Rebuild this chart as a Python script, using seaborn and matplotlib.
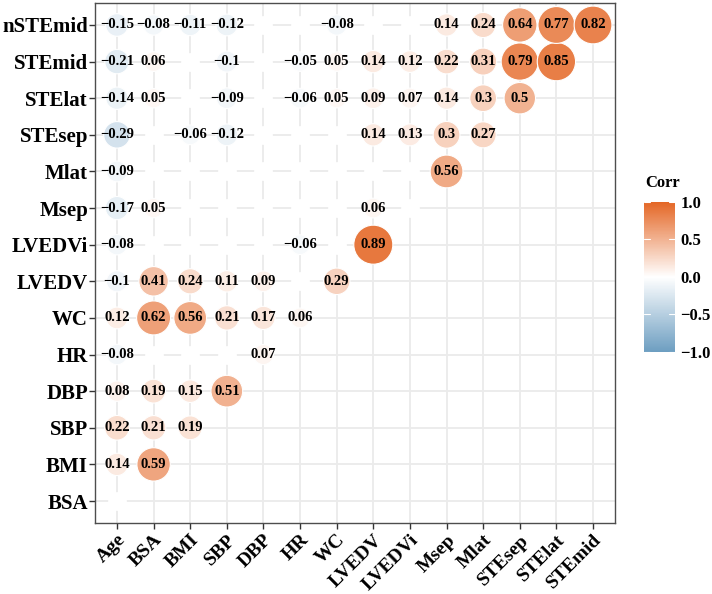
import numpy as np
import pandas as pd
import matplotlib
matplotlib.use("Agg")
import matplotlib.pyplot as plt
import seaborn as sns
from matplotlib.colors import LinearSegmentedColormap, Normalize
from matplotlib.colorbar import ColorbarBase

sns.set_style("white")
plt.rcParams["font.family"] = ["Liberation Serif", "DejaVu Serif"]
plt.rcParams["font.weight"] = "bold"
plt.rcParams["text.color"] = "black"
plt.rcParams["xtick.labelcolor"] = "black"
plt.rcParams["ytick.labelcolor"] = "black"

# variables on each axis
cols = ["Age", "BSA", "BMI", "SBP", "DBP", "HR", "WC", "LVEDV", "LVEDVi",
        "Msep", "Mlat", "STEsep", "STElat", "STEmid"]
rows = ["BSA", "BMI", "SBP", "DBP", "HR", "WC", "LVEDV", "LVEDVi",
        "Msep", "Mlat", "STEsep", "STElat", "STEmid", "nSTEmid"]

nan = np.nan
# lower triangle correlations, one list per row (blank = not significant)
r_BSA = [nan]
r_BMI = [0.14, 0.59]
r_SBP = [0.22, 0.21, 0.19]
r_DBP = [0.08, 0.19, 0.15, 0.51]
r_HR = [-0.08, nan, nan, nan, 0.07]
r_WC = [0.12, 0.62, 0.56, 0.21, 0.17, 0.06]
r_LVEDV = [-0.1, 0.41, 0.24, 0.11, 0.09, nan, 0.29]
r_LVEDVi = [-0.08, nan, nan, nan, nan, -0.06, nan, 0.89]
r_Msep = [-0.17, 0.05, nan, nan, nan, nan, nan, 0.06, nan]
r_Mlat = [-0.09, nan, nan, nan, nan, nan, nan, nan, nan, 0.56]
r_STEsep = [-0.29, nan, -0.06, -0.12, nan, nan, nan, 0.14, 0.13, 0.3, 0.27]
r_STElat = [-0.14, 0.05, nan, -0.09, nan, -0.06, 0.05, 0.09, 0.07, 0.14, 0.3, 0.5]
r_STEmid = [-0.21, 0.06, nan, -0.1, nan, -0.05, 0.05, 0.14, 0.12, 0.22, 0.31,
            0.79, 0.85]
r_nSTEmid = [-0.15, -0.08, -0.11, -0.12, nan, nan, -0.08, nan, nan, 0.14, 0.24,
             0.64, 0.77, 0.82]

all_rows = [r_BSA, r_BMI, r_SBP, r_DBP, r_HR, r_WC, r_LVEDV, r_LVEDVi,
            r_Msep, r_Mlat, r_STEsep, r_STElat, r_STEmid, r_nSTEmid]

recs = []
for i, vals in enumerate(all_rows):
    for j, v in enumerate(vals):
        recs.append({"x": j, "y": i, "value": v})
df = pd.DataFrame(recs)
df["abs"] = df["value"].abs().fillna(0)
sig = df.dropna(subset=["value"])

cmap = LinearSegmentedColormap.from_list("corr", ["#6D9EC1", "white", "#E46726"])

fig = plt.figure(figsize=(7.12, 5.94), dpi=100)
ax = fig.add_axes([95 / 712, 1 - 523 / 594, 520 / 712, 520 / 594])

# white patches under every cell of the triangle
ax.scatter(df["x"], df["y"], s=160, c="white", edgecolors="white",
           linewidths=0.8, zorder=2)

sns.scatterplot(data=sig, x="x", y="y", hue="value", palette=cmap,
                hue_norm=(-1, 1), size="abs", sizes=(160, 790),
                size_norm=(0, df["abs"].max()), edgecolor="white",
                linewidth=0.8, legend=False, ax=ax, zorder=3)

for _, r in sig.iterrows():
    ax.text(r["x"], r["y"], f"{r['value']:g}".replace("-", "\u2212"),
            ha="center", va="center", fontsize=10.5, fontweight="bold",
            color="black", zorder=4)

ax.set_xlim(-0.6, 13.6)
ax.set_ylim(-0.6, 13.6)
ax.set_xticks(range(len(cols)))
ax.set_xticklabels(cols, rotation=45, ha="right", rotation_mode="anchor",
                   fontsize=14, fontweight="bold")
ax.set_yticks(range(len(rows)))
ax.set_yticklabels(rows, fontsize=15, fontweight="bold")
ax.set_xlabel("")
ax.set_ylabel("")
ax.tick_params(axis="x", length=4, width=1, color="#333333", pad=2, bottom=True)
ax.tick_params(axis="y", length=4, width=1, color="#333333", pad=1, left=True)
ax.grid(True, color="#EBEBEB", linewidth=1.3)
ax.set_axisbelow(True)
for sp in ax.spines.values():
    sp.set_color("#4D4D4D")
    sp.set_linewidth(1.0)

# colour bar legend
cax = fig.add_axes([644 / 712, 1 - 352 / 594, 31 / 712, 150 / 594])
cb = ColorbarBase(cax, cmap=cmap, norm=Normalize(-1, 1), orientation="vertical")
cb.outline.set_visible(False)
cb.set_ticks([-1, -0.5, 0, 0.5, 1])
cb.set_ticklabels(["\u22121.0", "\u22120.5", "0.0", "0.5", "1.0"])
cax.tick_params(length=0, labelsize=12, pad=4, labelcolor="black")
for t in cax.get_yticklabels():
    t.set_fontweight("bold")
for tv in [-1, -0.5, 0, 0.5, 1]:
    cax.plot([0, 0.2], [tv, tv], color="white", lw=0.8, transform=cax.get_yaxis_transform())
    cax.plot([0.8, 1], [tv, tv], color="white", lw=0.8, transform=cax.get_yaxis_transform())
fig.text(645 / 712, 1 - 183 / 594, "Corr", fontsize=12, fontweight="bold",
         ha="left", va="center", color="black")

fig.savefig("out.png", dpi=100)
